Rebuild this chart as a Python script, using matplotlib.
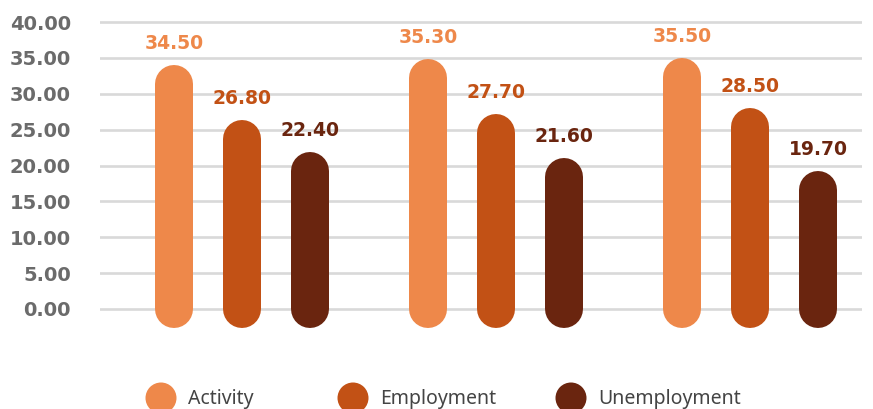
import matplotlib
matplotlib.use("Agg")
import matplotlib.pyplot as plt
from matplotlib.patches import Circle
import numpy as np

groups = ["Group 1", "Group 2", "Group 3"]
series = ["Activity", "Employment", "Unemployment"]
activity = [34.50, 35.30, 35.50]
employment = [26.80, 27.70, 28.50]
unemployment = [22.40, 21.60, 19.70]
values = [activity, employment, unemployment]
colors = ["#EE884A", "#C25115", "#6A250F"]
yticks = [0, 5, 10, 15, 20, 25, 30, 35, 40]

W, H = 873, 409
fig = plt.figure(figsize=(W / 100, H / 100), dpi=100)

# axes placement (pixels)
left_px, right_px = 100, 862
y40_px, y0_px = 22, 309
ppu = (y0_px - y40_px) / 40.0
ylo, yhi = -5, 42
bot_px = y0_px - ylo * ppu
top_px = y0_px - yhi * ppu
ax = fig.add_axes([left_px / W, 1 - bot_px / H, (right_px - left_px) / W, (bot_px - top_px) / H])

group_sp = 254.0
bar_sp = 68.0 / group_sp
bar_w_px = 38.0
xmid0 = 242.0
ax.set_xlim((left_px - xmid0) / group_sp, (right_px - xmid0) / group_sp)
ax.set_ylim(ylo, yhi)

for s in ["top", "right", "left", "bottom"]:
    ax.spines[s].set_visible(False)
ax.set_yticks(yticks)
ax.set_yticklabels([f"{t:.2f}" for t in yticks], fontsize=14, fontweight="bold", color="#6b6b6b")
ax.tick_params(axis="y", length=0, pad=21)
ax.set_xticks([])
ax.grid(axis="y", color="#d9d9d9", linewidth=1.9)
ax.set_axisbelow(True)

r_units = (bar_w_px / 2) / ppu  # cap radius in y data units
lw_pt = bar_w_px * 72 / 100

x = np.arange(len(groups))
for si, (vals, col) in enumerate(zip(values, colors)):
    for gi, v in enumerate(vals):
        cx = x[gi] + (si - 1) * bar_sp
        y_bot = -2.6
        y_top = v - 0.5
        ax.plot([cx, cx], [y_bot + r_units, y_top - r_units], color=col, linewidth=lw_pt,
                solid_capstyle="round", zorder=3, clip_on=False)
        ax.text(cx, v + 2.5, f"{v:.2f}", ha="center", va="center", fontsize=13.5,
                fontweight="bold", color=col, zorder=4)

# legend (manual)
lax = fig.add_axes([0, 0, 1, 1])
lax.set_xlim(0, W)
lax.set_ylim(H, 0)
lax.axis("off")
leg_x = [161, 353, 571]
leg_y = 398
for lx, name, col in zip(leg_x, series, colors):
    lax.add_patch(Circle((lx, leg_y), 15.5, facecolor=col, edgecolor="none"))
    lax.text(lx + 27, leg_y + 1, name, ha="left", va="center", fontsize=14,
             color="#444444", family="Noto Sans")

fig.savefig("out.png", dpi=100)
